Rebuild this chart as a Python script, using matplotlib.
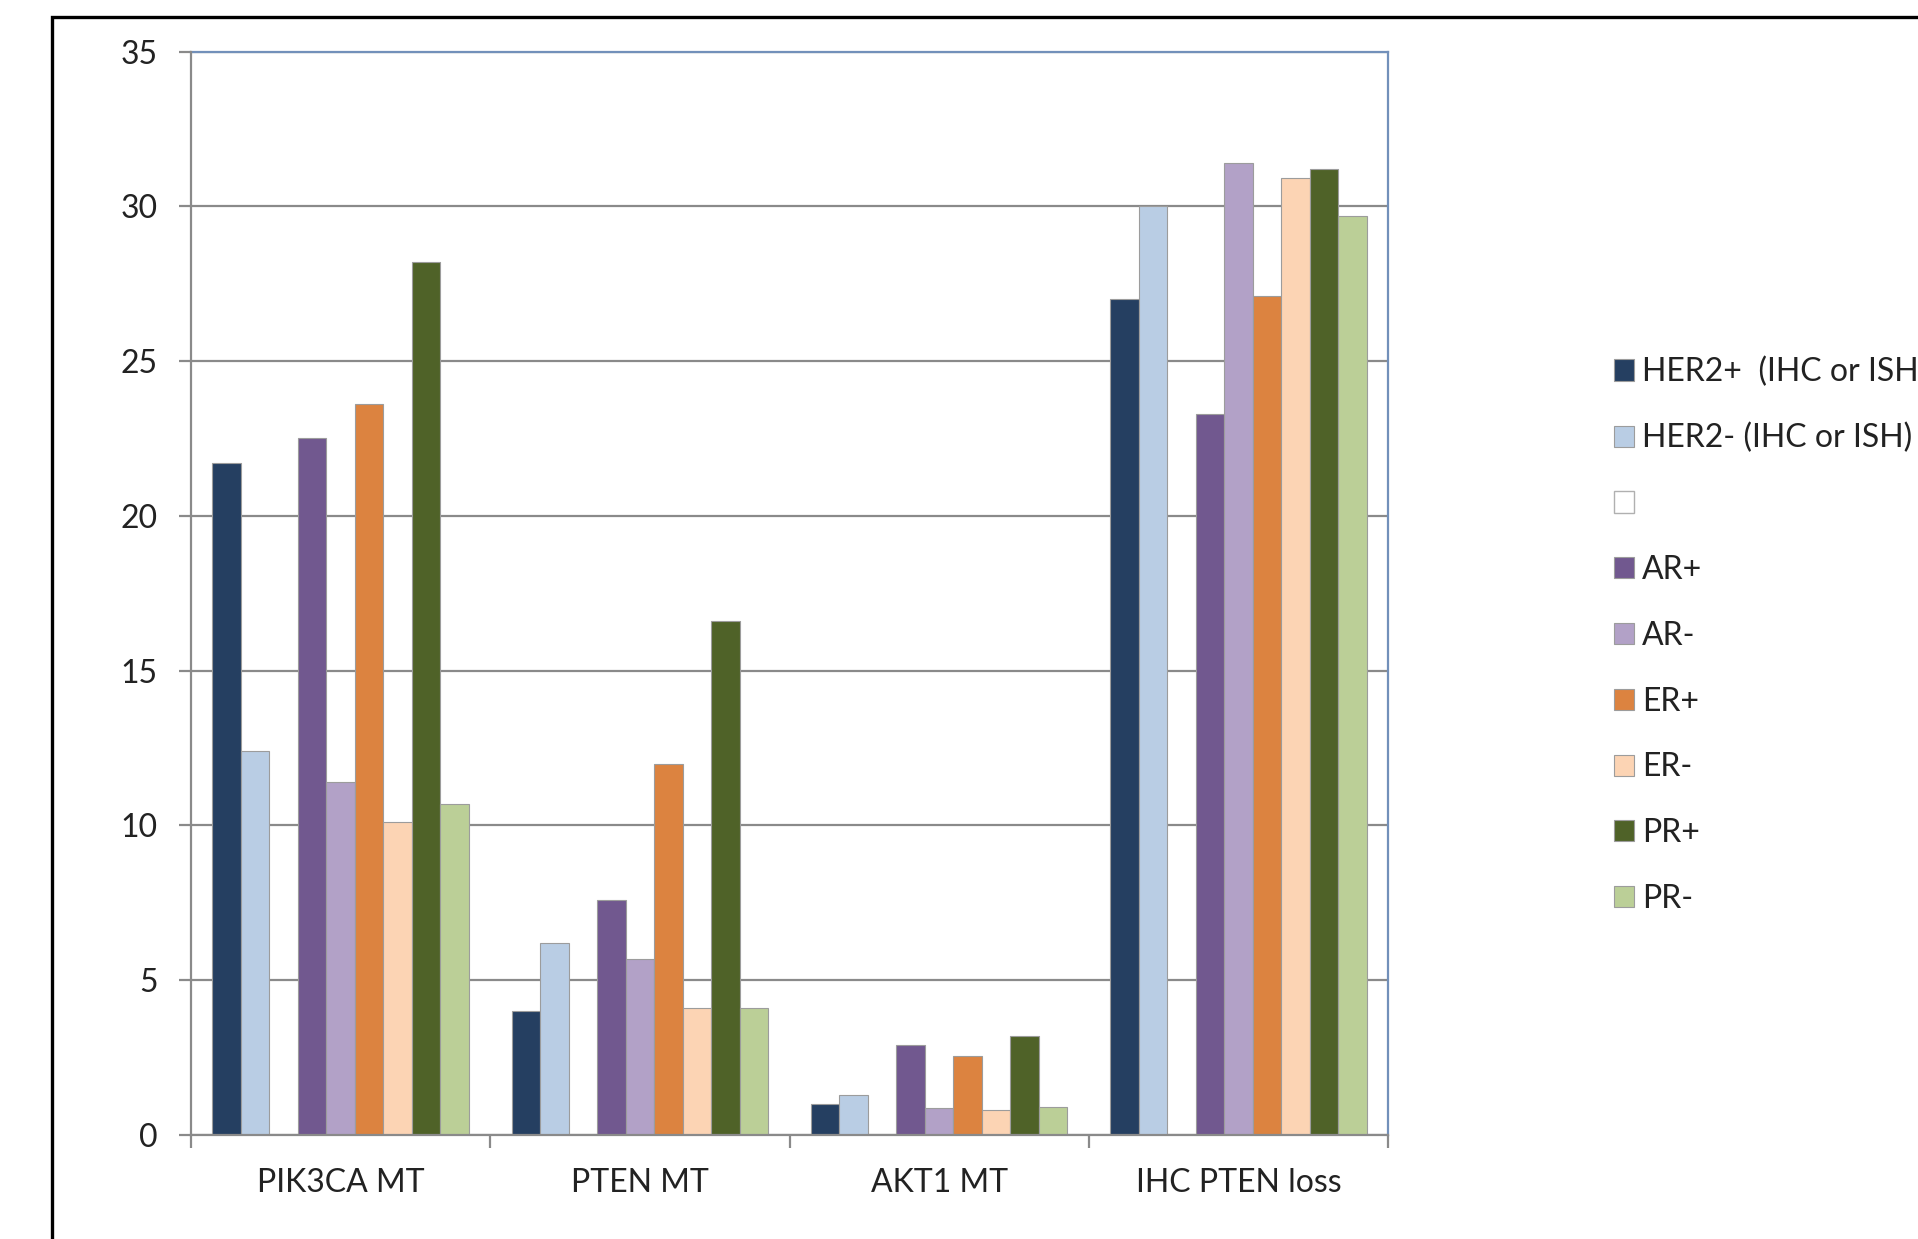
import numpy as np
import matplotlib.pyplot as plt
from matplotlib.patches import Patch, Rectangle

plt.rcParams['font.family'] = ['Lato', 'DejaVu Sans']

categories = ['PIK3CA MT', 'PTEN MT', 'AKT1 MT', 'IHC PTEN loss']

her2_pos = [21.7, 4.0, 1.0, 27.0]
her2_neg = [12.4, 6.2, 1.3, 30.0]
ar_pos = [22.5, 7.6, 2.9, 23.3]
ar_neg = [11.4, 5.7, 0.87, 31.4]
er_pos = [23.6, 12.0, 2.56, 27.1]
er_neg = [10.1, 4.1, 0.81, 30.9]
pr_pos = [28.2, 16.6, 3.19, 31.2]
pr_neg = [10.7, 4.1, 0.92, 29.7]

# the third slot is an empty series, kept so the spacing and legend line up
series = [
    ('HER2+  (IHC or ISH)', her2_pos, '#253f61'),
    ('HER2- (IHC or ISH)', her2_neg, '#b9cde4'),
    ('', None, 'white'),
    ('AR+', ar_pos, '#71588f'),
    ('AR-', ar_neg, '#b2a1c7'),
    ('ER+', er_pos, '#dc8340'),
    ('ER-', er_neg, '#fcd4b4'),
    ('PR+', pr_pos, '#4f6228'),
    ('PR-', pr_neg, '#bbcf97'),
]

fs = 23

fig = plt.figure(figsize=(19.18, 12.39), dpi=100)
ax = fig.add_axes([191 / 1918, 1 - 1135 / 1239, (1388 - 191) / 1918, (1135 - 51.5) / 1239])

n = len(series)
w = 1.0 / (n + 1.5)
x = np.arange(len(categories))
handles = []
for j, (name, vals, col) in enumerate(series):
    if vals is not None:
        ax.bar(x + (j - (n - 1) / 2) * w, vals, width=w, color=col,
               edgecolor='#9c9c9c', linewidth=0.8, zorder=3)
        handles.append(Patch(facecolor=col, edgecolor='#9c9c9c', linewidth=0.8))
    else:
        handles.append(Patch(facecolor='white', edgecolor='#b0b0b0', linewidth=1.0))

ax.set_xlim(-0.5, len(categories) - 0.5)
ax.set_ylim(0, 35)
ax.set_yticks(np.arange(0, 36, 5))
ax.yaxis.grid(True, color='#8a8a8a', linewidth=1.6, zorder=0)
ax.set_axisbelow(True)

# category boundaries carry the ticks, centres carry the labels
ax.set_xticks(np.arange(-0.5, len(categories), 1.0))
ax.set_xticklabels([])
ax.set_xticks(x, minor=True)
ax.set_xticklabels(categories, minor=True)
ax.tick_params(axis='x', which='minor', length=0, pad=24, labelsize=fs, colors='#222222')
ax.tick_params(axis='x', which='major', length=9, width=1.6, color='#8a8a8a')
ax.tick_params(axis='y', length=9, width=1.6, color='#8a8a8a', pad=15, labelsize=fs,
               labelcolor='#222222')

for side in ['left', 'bottom']:
    ax.spines[side].set_color('#8a8a8a')
    ax.spines[side].set_linewidth(1.6)
    ax.spines[side].set_zorder(4)
for side in ['top', 'right']:
    ax.spines[side].set_color('#7290ba')
    ax.spines[side].set_linewidth(1.6)

fig.legend(handles, [s[0] for s in series], loc='upper left',
           bbox_to_anchor=(1585 / 1918, 1 - 328 / 1239), frameon=False,
           fontsize=fs, handlelength=0.64, handleheight=0.64, handletextpad=0.25,
           labelspacing=1.12, labelcolor='#222222')

# outer chart frame, running off the right and bottom edges
fig.patches.append(Rectangle((52 / 1918, -0.1), 1.2, 1.1 - 17 / 1239,
                             transform=fig.transFigure, fill=False,
                             edgecolor='black', linewidth=2.4))

fig.savefig('out.png', dpi=100)
